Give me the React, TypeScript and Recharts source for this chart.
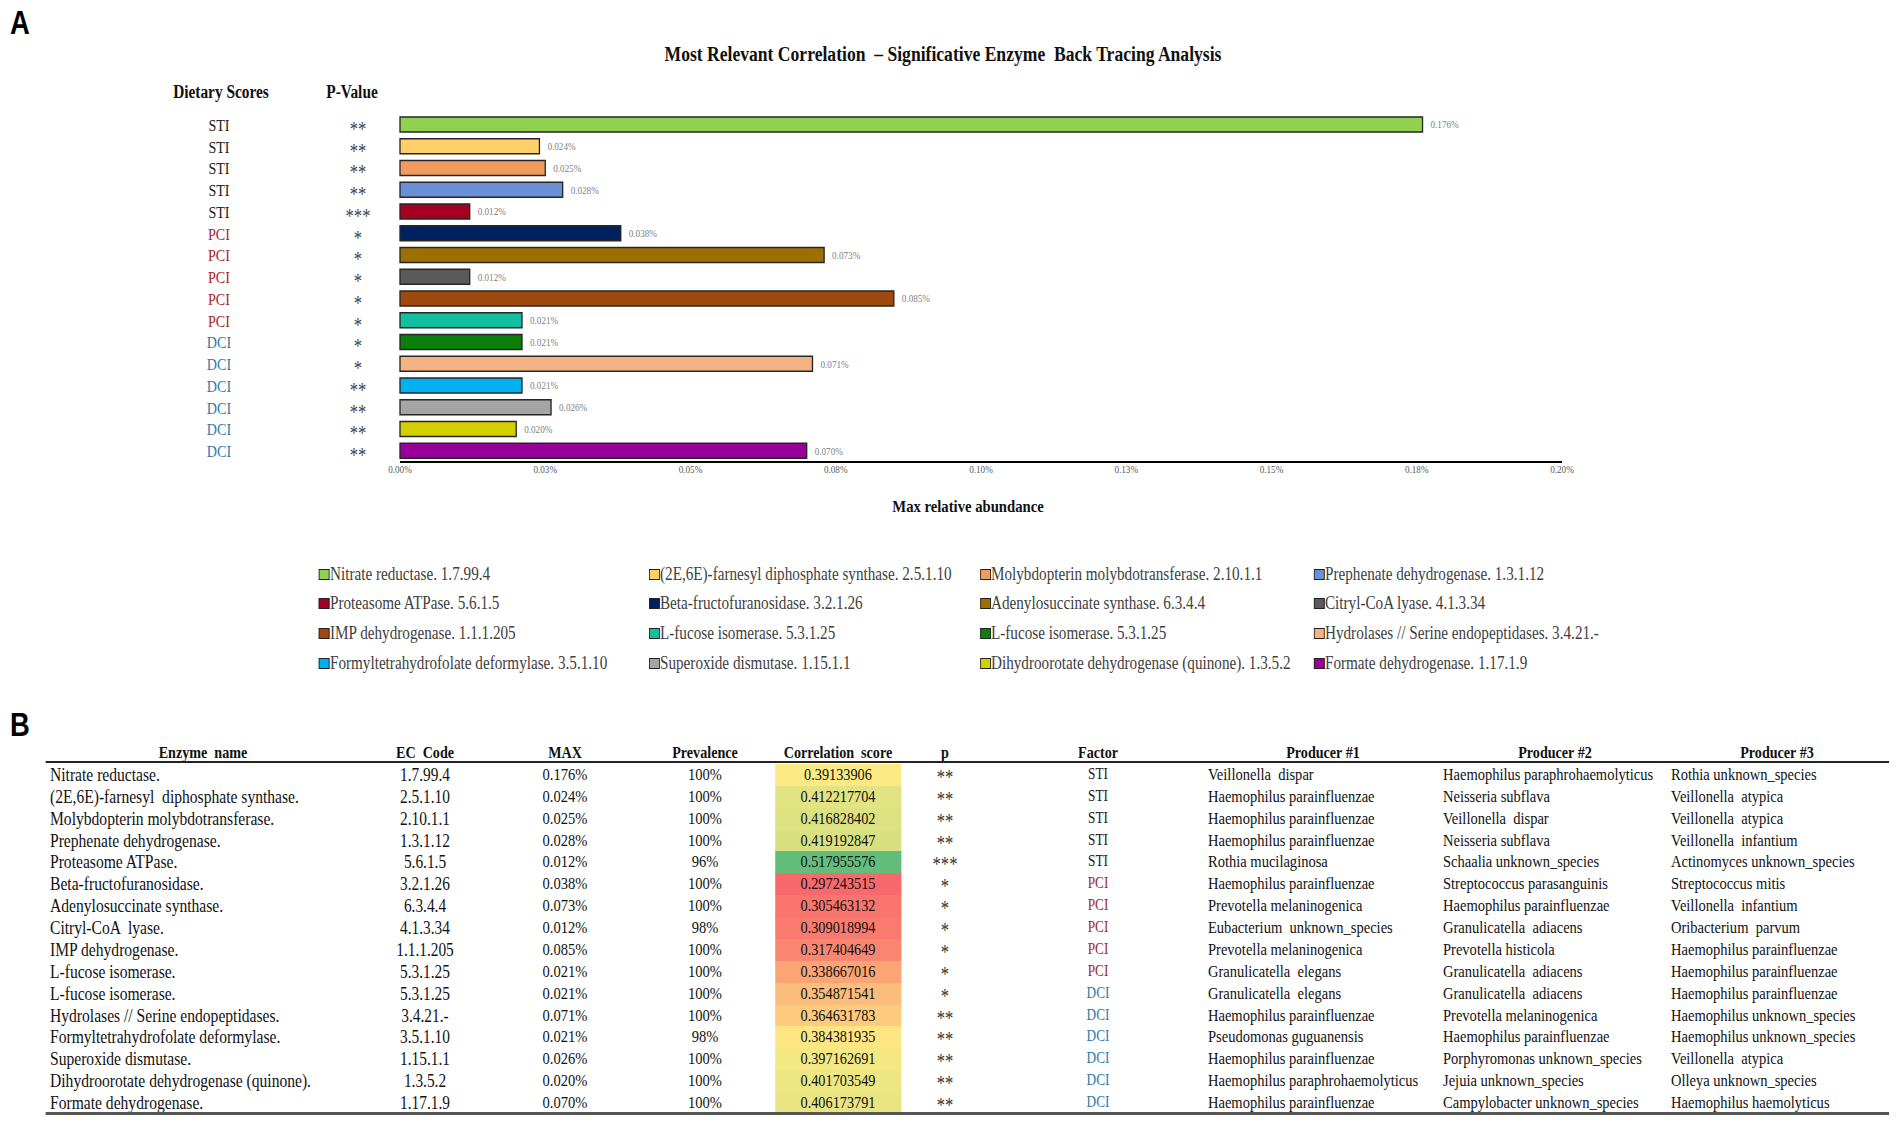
import React from "react";
import { BarChart, Bar, XAxis, YAxis, Cell, LabelList } from "recharts";

// horizontal squeeze of the original figure
const S = 0.83;
const X = (v: number) => v / S;

const enzymes = [
  "Nitrate reductase.",
  "(2E,6E)-farnesyl  diphosphate synthase.",
  "Molybdopterin molybdotransferase.",
  "Prephenate dehydrogenase.",
  "Proteasome ATPase.",
  "Beta-fructofuranosidase.",
  "Adenylosuccinate synthase.",
  "Citryl-CoA  lyase.",
  "IMP dehydrogenase.",
  "L-fucose isomerase.",
  "L-fucose isomerase.",
  "Hydrolases // Serine endopeptidases.",
  "Formyltetrahydrofolate deformylase.",
  "Superoxide dismutase.",
  "Dihydroorotate dehydrogenase (quinone).",
  "Formate dehydrogenase.",
];
const ecCodes = ["1.7.99.4", "2.5.1.10", "2.10.1.1", "1.3.1.12", "5.6.1.5", "3.2.1.26", "6.3.4.4", "4.1.3.34", "1.1.1.205", "5.3.1.25", "5.3.1.25", "3.4.21.-", "3.5.1.10", "1.15.1.1", "1.3.5.2", "1.17.1.9"];
const maxAbundance = [0.176, 0.024, 0.025, 0.028, 0.012, 0.038, 0.073, 0.012, 0.085, 0.021, 0.021, 0.071, 0.021, 0.026, 0.020, 0.070];
const prevalence = ["100%", "100%", "100%", "100%", "96%", "100%", "100%", "98%", "100%", "100%", "100%", "100%", "98%", "100%", "100%", "100%"];
const correlation = [0.39133906, 0.412217704, 0.416828402, 0.419192847, 0.517955576, 0.297243515, 0.305463132, 0.309018994, 0.317404649, 0.338667016, 0.354871541, 0.364631783, 0.384381935, 0.397162691, 0.401703549, 0.406173791];
const tableP = ["**", "**", "**", "**", "***", "*", "*", "*", "*", "*", "*", "**", "**", "**", "**", "**"];
const chartStars = ["**", "**", "**", "**", "***", "*", "*", "*", "*", "*", "*", "*", "**", "**", "**", "**"];
const factors = ["STI", "STI", "STI", "STI", "STI", "PCI", "PCI", "PCI", "PCI", "PCI", "DCI", "DCI", "DCI", "DCI", "DCI", "DCI"];
const producer1 = ["Veillonella  dispar", "Haemophilus parainfluenzae", "Haemophilus parainfluenzae", "Haemophilus parainfluenzae", "Rothia mucilaginosa", "Haemophilus parainfluenzae", "Prevotella melaninogenica", "Eubacterium  unknown_species", "Prevotella melaninogenica", "Granulicatella  elegans", "Granulicatella  elegans", "Haemophilus parainfluenzae", "Pseudomonas guguanensis", "Haemophilus parainfluenzae", "Haemophilus paraphrohaemolyticus", "Haemophilus parainfluenzae"];
const producer2 = ["Haemophilus paraphrohaemolyticus", "Neisseria subflava", "Veillonella  dispar", "Neisseria subflava", "Schaalia unknown_species", "Streptococcus parasanguinis", "Haemophilus parainfluenzae", "Granulicatella  adiacens", "Prevotella histicola", "Granulicatella  adiacens", "Granulicatella  adiacens", "Prevotella melaninogenica", "Haemophilus parainfluenzae", "Porphyromonas unknown_species", "Jejuia unknown_species", "Campylobacter unknown_species"];
const producer3 = ["Rothia unknown_species", "Veillonella  atypica", "Veillonella  atypica", "Veillonella  infantium", "Actinomyces unknown_species", "Streptococcus mitis", "Veillonella  infantium", "Oribacterium  parvum", "Haemophilus parainfluenzae", "Haemophilus parainfluenzae", "Haemophilus parainfluenzae", "Haemophilus unknown_species", "Haemophilus unknown_species", "Veillonella  atypica", "Olleya unknown_species", "Haemophilus haemolyticus"];
const barColors = ["#92D050", "#FFCF6A", "#F29B5E", "#6A8FD4", "#A50021", "#002060", "#9C6F00", "#5A5A5A", "#A0490F", "#14BFA0", "#0A800A", "#F4B183", "#00B0F0", "#A5A5A5", "#D4D000", "#990099"];
const tickValues = [0, 0.025, 0.05, 0.075, 0.1, 0.125, 0.15, 0.175, 0.2];
const tickLabels = ["0.00%", "0.03%", "0.05%", "0.08%", "0.10%", "0.13%", "0.15%", "0.18%", "0.20%"];
const tableHeaders = ["Enzyme  name", "EC  Code", "MAX", "Prevalence", "Correlation  score", "p", "Factor", "Producer #1", "Producer #2", "Producer #3"];

const factorColor: Record<string, string> = { STI: "#1a1a1a", PCI: "#A3262E", DCI: "#2F7AAA" };

const chartRows = maxAbundance.map((v, i) => ({ key: String(i), value: v }));

// excel style red - yellow - green colour scale
const sortedCorr = [...correlation].sort((a, b) => a - b);
const cMin = sortedCorr[0];
const cMax = sortedCorr[sortedCorr.length - 1];
const cMid = (sortedCorr[7] + sortedCorr[8]) / 2;
const mix = (a: number[], b: number[], t: number) =>
  `rgb(${a.map((c, k) => Math.round(c + (b[k] - c) * t)).join(",")})`;
const scoreColor = (v: number) => {
  const red = [248, 105, 107], yel = [255, 235, 132], grn = [99, 190, 123];
  if (v <= cMid) return mix(red, yel, (v - cMin) / (cMid - cMin));
  return mix(yel, grn, (v - cMid) / (cMax - cMid));
};

const ScoreTick = (props: any) => {
  const { y, payload } = props;
  const i = Number(payload.value);
  return (
    <g>
      <text x={X(219)} y={y} dy="0.35em" textAnchor="middle" fontSize={17} fill={factorColor[factors[i]]}>
        {factors[i]}
      </text>
      <text x={X(358)} y={y + 4} dy="0.35em" textAnchor="middle" fontSize={20} fill="#404040">
        {chartStars[i]}
      </text>
    </g>
  );
};

const Txt = ({ x, y, size, center, bold, color, family, children }: any) => (
  <div
    style={{
      position: "absolute",
      left: X(x),
      top: y,
      transform: center ? "translate(-50%, -50%)" : "translateY(-50%)",
      fontSize: size,
      lineHeight: 1,
      whiteSpace: "pre",
      fontWeight: bold ? "bold" : "normal",
      color: color || "#111",
      fontFamily: family,
    }}
  >
    {children}
  </div>
);

const legendCols = [319, 649, 980, 1314];
const legendRows = [574, 603, 633, 663];
const rowTop = 764;
const rowH = 21.87;

export default function App() {
  return (
    <div
      style={{
        position: "relative",
        width: X(1902),
        height: 1137,
        transform: `scaleX(${S})`,
        transformOrigin: "0 0",
        fontFamily: "'Liberation Serif', 'Times New Roman', serif",
        background: "#fff",
        overflow: "hidden",
      }}
    >
      <style>{"body{margin:0;overflow:hidden;}"}</style>

      <Txt x={10} y={22} size={33} bold family="'Liberation Sans', Arial, sans-serif" color="#000">A</Txt>
      <Txt x={943} y={55} size={21.2} bold center>
        {"Most Relevant Correlation  \u2013 Significative Enzyme  Back Tracing Analysis"}
      </Txt>
      <Txt x={221} y={92} size={18.5} bold center>Dietary Scores</Txt>
      <Txt x={352} y={92} size={18.5} bold center>P-Value</Txt>

      <div style={{ position: "absolute", left: 0, top: 100 }}>
        <BarChart
          width={X(1650)}
          height={400}
          layout="vertical"
          data={chartRows}
          margin={{ top: 14, right: X(88), left: 0, bottom: 8 }}
        >
          <XAxis
            type="number"
            domain={[0, 0.2]}
            ticks={tickValues}
            interval={0}
            tickFormatter={(v: number) => tickLabels[tickValues.indexOf(v)]}
            axisLine={{ stroke: "#000", strokeWidth: 2 }}
            tickLine={false}
            tickSize={0}
            tickMargin={3}
            height={30}
            tick={{ fontSize: 11, fill: "#595959" }}
          />
          <YAxis
            type="category"
            dataKey="key"
            width={X(400)}
            axisLine={false}
            tickLine={false}
            interval={0}
            tick={<ScoreTick />}
          />
          <Bar dataKey="value" barSize={15} stroke="#262626" strokeWidth={1.6} isAnimationActive={false}>
            {chartRows.map((r, i) => (
              <Cell key={r.key} fill={barColors[i]} />
            ))}
            <LabelList
              dataKey="value"
              position="right"
              offset={X(8)}
              formatter={(v: any) => `${Number(v).toFixed(3)}%`}
              fill="#808080"
              fontSize={11}
            />
          </Bar>
        </BarChart>
      </div>

      <Txt x={968} y={507} size={17.7} bold center>Max relative abundance</Txt>

      {enzymes.map((name, i) => {
        const col = i % 4;
        const row = Math.floor(i / 4);
        return (
          <React.Fragment key={"lg" + i}>
            <div
              style={{
                position: "absolute",
                left: X(legendCols[col]),
                top: legendRows[row] - 5,
                width: X(9),
                height: 9,
                background: barColors[i],
                border: "1px solid #222",
              }}
            />
            <Txt x={legendCols[col] + 11} y={legendRows[row]} size={18.3} color="#404040">
              {`${name.replace(/\s+/g, " ")} ${ecCodes[i]}`}
            </Txt>
          </React.Fragment>
        );
      })}

      <Txt x={10} y={724} size={33} bold family="'Liberation Sans', Arial, sans-serif" color="#000">B</Txt>

      {/* table */}
      {tableHeaders.map((h, k) => {
        const centers = [203, 425, 565, 705, 838, 945, 1098, 1323, 1555, 1777];
        return (
          <Txt key={"h" + k} x={centers[k]} y={752} size={17} bold center>
            {h}
          </Txt>
        );
      })}
      <div style={{ position: "absolute", left: X(46), top: 761, width: X(1843), height: 2, background: "#222" }} />

      {enzymes.map((name, i) => {
        const cy = rowTop + rowH * i + rowH / 2;
        return (
          <React.Fragment key={"r" + i}>
            <div
              style={{
                position: "absolute",
                left: X(775),
                top: rowTop + rowH * i,
                width: X(126),
                height: rowH + 0.5,
                background: scoreColor(correlation[i]),
              }}
            />
            <Txt x={50} y={cy} size={18.8}>{name}</Txt>
            <Txt x={425} y={cy} size={18.5} center>{ecCodes[i]}</Txt>
            <Txt x={565} y={cy} size={17.5} center>{`${maxAbundance[i].toFixed(3)}%`}</Txt>
            <Txt x={705} y={cy} size={17.5} center>{prevalence[i]}</Txt>
            <Txt x={838} y={cy} size={17.2} center>{String(correlation[i])}</Txt>
            <Txt x={945} y={cy + 2} size={20} center color="#333">{tableP[i]}</Txt>
            <Txt x={1098} y={cy - 1} size={16} center color={factorColor[factors[i]]}>{factors[i]}</Txt>
            <Txt x={1208} y={cy} size={17.5}>{producer1[i]}</Txt>
            <Txt x={1443} y={cy} size={17.5}>{producer2[i]}</Txt>
            <Txt x={1671} y={cy} size={17.5}>{producer3[i]}</Txt>
          </React.Fragment>
        );
      })}
      <div style={{ position: "absolute", left: X(46), top: 1112, width: X(1843), height: 3, background: "#555" }} />
    </div>
  );
}
